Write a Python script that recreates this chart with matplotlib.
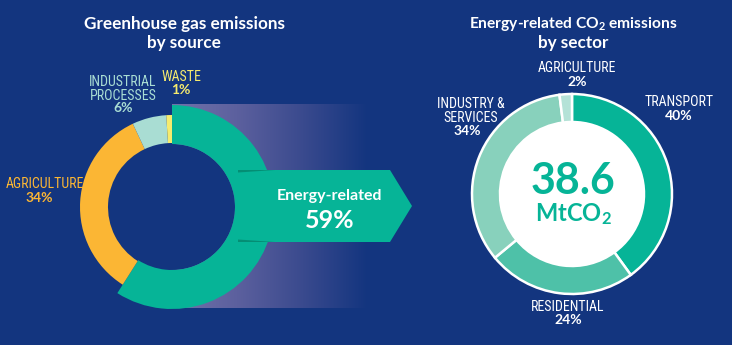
import numpy as np
import matplotlib.pyplot as plt
from matplotlib import font_manager
from matplotlib.patches import Polygon, Circle
from matplotlib.colors import LinearSegmentedColormap

# --- Data ---
source_labels = ["Energy-related", "AGRICULTURE", "INDUSTRIAL\nPROCESSES", "WASTE"]
source_shares = [59, 34, 6, 1]
source_colors = ["#06B497", "#FBB634", "#A9DDD3", "#F6EB6E"]

sector_labels = ["TRANSPORT", "RESIDENTIAL", "INDUSTRY &\nSERVICES", "AGRICULTURE"]
sector_shares = [40, 24, 34, 2]
sector_colors = ["#06B497", "#4EC1A8", "#88D1BC", "#B4E2D7"]

total_co2 = 38.6

NAVY = "#13357F"
W, H = 732, 345


def narrow_font():
    # pick a condensed face for the small caps labels if one is installed
    names = {f.name for f in font_manager.fontManager.ttflist}
    for n in ["Liberation Sans Narrow", "DejaVu Sans Condensed", "Roboto Condensed",
              "Open Sans Condensed", "Noto Sans Condensed"]:
        if n in names:
            return [n, "DejaVu Sans"], "normal"
    for f in font_manager.fontManager.ttflist:
        if isinstance(f.stretch, str) and "condensed" in f.stretch:
            return [f.name, "DejaVu Sans"], f.stretch
        if isinstance(f.stretch, int) and f.stretch < 500:
            return [f.name, "DejaVu Sans"], f.stretch
    return ["Roboto", "DejaVu Sans"], "normal"


title_font = ["Lato", "DejaVu Sans"]
label_font, label_stretch = narrow_font()

# subscripts drawn with mathtext in the same bold face
plt.rcParams["mathtext.fontset"] = "custom"
plt.rcParams["mathtext.rm"] = "Lato:bold"
plt.rcParams["mathtext.bf"] = "Lato:bold"
plt.rcParams["mathtext.default"] = "bf"

fig = plt.figure(figsize=(W / 100, H / 100), dpi=100, facecolor=NAVY)
ax = fig.add_axes([0, 0, 1, 1])
ax.set_facecolor(NAVY)

# --- left donut: emissions by source ---
cx1, cy1 = 172, 138

# fading band behind the arrow
grad = LinearSegmentedColormap.from_list("band", ["#7172AA", "#5C609E", "#3A4A8E", NAVY])
ax.imshow(np.linspace(0, 1, 256)[None, :], cmap=grad, extent=(cx1, 368, 37, 241),
          aspect="auto", zorder=1)
ax.add_patch(Circle((cx1, cy1), 63, facecolor=NAVY, edgecolor="none", zorder=1.5))

wedges, _ = ax.pie(source_shares, colors=source_colors, startangle=90, counterclock=False,
                   center=(cx1, cy1), radius=92, wedgeprops=dict(width=28, linewidth=0),
                   frame=True)
for w in wedges:
    w.set_zorder(2)
# the energy slice stands out
wedges[0].set_radius(102)
wedges[0].set_width(39)

# arrow out of the energy slice
arrow = Polygon([(235, 175), (390, 175), (412, 139), (390, 103), (235, 103)],
                closed=True, facecolor=source_colors[0], edgecolor="none", zorder=3)
ax.add_patch(arrow)
for y0, dy in [(175, 2.5), (103, -2.5)]:
    ax.add_patch(Polygon([(238, y0), (275, y0), (238, y0 - dy)], closed=True,
                         facecolor="#047E66", edgecolor="none", alpha=0.7, zorder=3))

ax.text(330, 149, source_labels[0], color="white", fontsize=11.5, fontweight="bold",
        family=title_font, ha="center", va="center", zorder=4)
ax.text(330, 124, f"{source_shares[0]}%", color="white", fontsize=18, fontweight="bold",
        family=title_font, ha="center", va="center", zorder=4)

ax.text(184, 321, "Greenhouse gas emissions", color="white", fontsize=12.3,
        fontweight="bold", family=title_font, ha="center", va="center")
ax.text(184, 302, "by source", color="white", fontsize=12.3,
        fontweight="bold", family=title_font, ha="center", va="center")

src_pos = {1: (45, 161, 39, 147), 2: (123, 256.5, 123, 237), 3: (181, 268, 181, 255)}
for i, (nx, ny, px, py) in src_pos.items():
    ax.text(nx, ny, source_labels[i], color=source_colors[i], fontsize=10,
            family=label_font, stretch=label_stretch, ha="center", va="center",
            linespacing=1.0)
    ax.text(px, py, f"{source_shares[i]}%", color=source_colors[i], fontsize=10,
            fontweight="bold", family=title_font, ha="center", va="center")

# --- right donut: energy CO2 by sector ---
cx2, cy2 = 572, 151
ax.add_patch(Circle((cx2, cy2), 73, facecolor="white", edgecolor="none", zorder=1))
ax.pie(sector_shares, colors=sector_colors, startangle=90, counterclock=False,
       center=(cx2, cy2), radius=100, frame=True,
       wedgeprops=dict(width=28, linewidth=1.8, edgecolor="white"))

ax.text(cx2 + 1, 164, f"{total_co2}", color=sector_colors[0], fontsize=31,
        fontweight="bold", family=title_font, ha="center", va="center")
ax.text(cx2 + 1, 131, "MtCO$_2$", color=sector_colors[0], fontsize=17,
        fontweight="bold", family=title_font, ha="center", va="center")

ax.text(573, 321, "Energy-related CO$_2$ emissions", color="white", fontsize=11.2,
        fontweight="bold", family=title_font, ha="center", va="center")
ax.text(573, 302, "by sector", color="white", fontsize=12.3,
        fontweight="bold", family=title_font, ha="center", va="center")

sec_pos = {0: (679, 243, 679, 229), 1: (568, 38, 568, 25),
           2: (471, 233.5, 467, 214), 3: (577, 277, 577, 263)}
for i, (nx, ny, px, py) in sec_pos.items():
    ax.text(nx, ny, sector_labels[i], color="white", fontsize=10, family=label_font,
            stretch=label_stretch, ha="center", va="center", linespacing=1.0)
    ax.text(px, py, f"{sector_shares[i]}%", color="white", fontsize=10,
            fontweight="bold", family=title_font, ha="center", va="center")

ax.set_xlim(0, W)
ax.set_ylim(0, H)
ax.set_aspect("auto")
ax.axis("off")

fig.savefig("out.png", dpi=100, facecolor=NAVY)
